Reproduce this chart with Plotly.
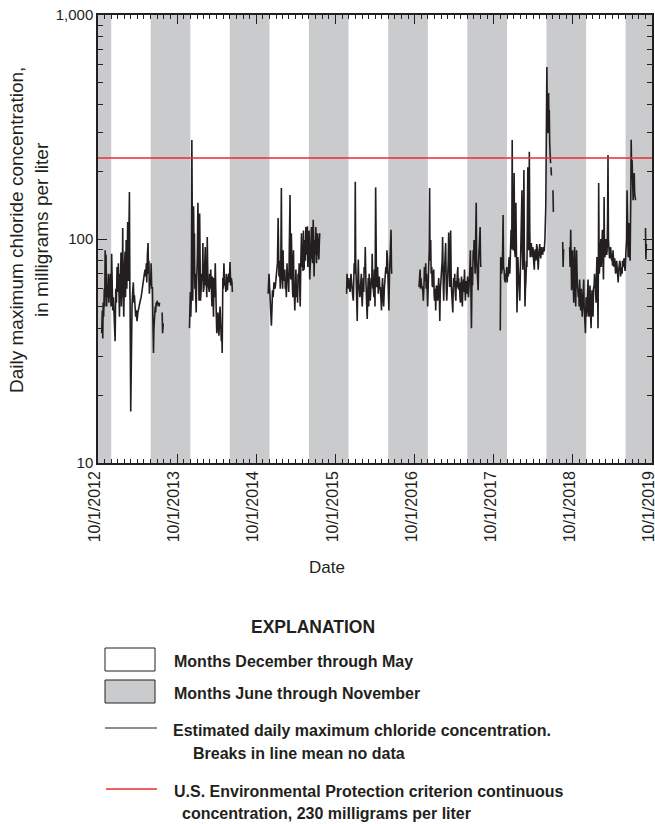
import pandas as pd
import plotly.graph_objects as go

# ---------------- data (day offset from 10/1/2012, mg/L) ----------------
START = "2012-10-01"
END = "2019-10-01"
EPA_CRITERION = 230

seg_2013a = [(17,38),(20,48),(22,36),(24,52),(26,45),(29,60),(31,50),(33,89),(35,55),(37,85),
             (40,50),(42,62),(45,55),(48,70),(50,52),(53,60),(57,70),(60,50),(63,86),(66,60),
             (68,48),(71,55),(73,47),(76,40),(79,35),(82,60),(85,52),(88,75),(91,58),(94,78),
             (97,55),(99,45),(102,70),(104,62),(106,87),(108,50),(110,66),(112,55),(114,112),(116,60),
             (119,45),(122,75),(125,88),(127,55),(130,99),(133,60),(135,80),(137,119),(140,65),(142,90),
             (145,162),(147,60),(148,53),(151,17),(154,40),(157,50),(160,58),(163,64),(166,52),(168,56),
             (171,50),(174,45),(177,48),(180,43),(184,47),(188,50),(191,50),(195,53),(199,55),(203,58),
             (207,61),(211,66),(214,70),(217,73),(220,68),(223,78),(225,64),(228,85),(231,96),(233,70),
             (235,80),(237,57),(240,65),(243,62),(245,78),(248,60),(251,61),(253,45),(256,31),(258,40),
             (261,45),(264,50),(266,47),(268,52),(271,50),(273,53),(276,51),(279,52),(282,50),(284,52)]
seg_2013b = [(296,47),(298,38),(301,42)]

seg_2014 = [(422,40),(424,55),(426,58),(428,45),(430,53),(433,277),(435,60),(437,53),(439,70),(441,140),
            (443,85),(445,106),(447,60),(449,70),(451,55),(453,47),(455,65),(458,81),(461,145),(463,75),
            (466,53),(469,130),(471,65),(473,53),(476,60),(479,70),(482,65),(484,96),(486,58),(489,61),
            (492,75),(495,92),(497,62),(499,67),(502,55),(504,102),(507,65),(510,61),(513,58),(515,70),
            (518,60),(520,73),(523,55),(526,50),(528,68),(530,61),(533,45),(535,67),(538,55),(541,78),
            (543,50),(546,45),(548,38),(550,42),(553,47),(556,40),(558,37),(561,45),(563,50),(566,42),
            (569,35),(571,40),(573,31),(576,67),(578,60),(581,78),(584,62),(587,64),(590,58),(592,70),
            (595,62),(597,59),(600,67),(603,70),(606,64),(609,79),(612,62),(615,67),(618,64),(620,58)]

seg_2015 = [(785,57),(787,65),(789,70),(792,60),(795,53),(797,48),(800,41),(803,50),(805,59),(808,55),
            (812,64),(815,60),(818,61),(821,66),(823,70),(826,72),(828,78),(831,124),(833,75),(835,68),
            (837,80),(839,70),(841,60),(843,67),(846,169),(848,75),(849,70),(852,60),(854,89),(856,65),
            (859,67),(862,73),(864,60),(866,64),(869,55),(872,78),(875,65),(877,67),(880,58),(882,81),
            (884,95),(886,157),(888,70),(889,66),(892,106),(894,62),(897,61),(899,55),(902,89),(904,60),
            (905,61),(908,48),(911,58),(913,73),(916,55),(919,61),(921,52),(923,70),(926,65),(928,78),
            (931,58),(933,50),(936,81),(939,106),(941,75),(943,85),(946,72),(948,109),(951,73),(954,99),
            (957,80),(959,113),(961,90),(963,85),(966,114),(968,75),(970,96),(972,80),(974,109),(977,66),
            (979,80),(982,89),(985,113),(988,82),(990,78),(993,122),(995,70),(997,68),(1000,99),(1002,85),
            (1005,113),(1008,78),(1010,85),(1013,106),(1016,92),(1019,81),(1021,95),(1023,106)]

seg_2016 = [(1147,57),(1149,70),(1151,62),(1154,60),(1157,67),(1160,62),(1163,58),(1167,70),(1170,60),(1173,59),
            (1176,55),(1178,53),(1180,65),(1182,78),(1185,70),(1187,180),(1189,80),(1191,68),(1194,55),(1196,43),
            (1198,60),(1201,81),(1203,65),(1205,61),(1208,55),(1210,57),(1213,65),(1215,70),(1217,56),(1219,50),
            (1222,60),(1224,67),(1226,58),(1228,75),(1231,70),(1233,92),(1236,65),(1238,53),(1240,50),(1242,44),
            (1245,60),(1247,67),(1249,50),(1251,70),(1254,60),(1256,53),(1259,60),(1261,67),(1263,62),(1265,86),
            (1268,60),(1270,61),(1273,55),(1275,73),(1277,58),(1278,50),(1281,170),(1283,70),(1285,61),(1288,65),
            (1290,75),(1293,57),(1295,62),(1298,68),(1300,60),(1302,61),(1305,55),(1308,48),(1310,60),(1313,67),
            (1315,55),(1318,50),(1321,60),(1324,70),(1326,65),(1328,75),(1331,70),(1333,89),(1336,80),(1338,61),
            (1340,55),(1342,48),(1345,70),(1347,80),(1350,90),(1352,110),(1354,75),(1355,70)]

seg_2017 = [(1481,61),(1483,70),(1486,73),(1488,60),(1490,67),(1493,62),(1496,61),(1499,58),(1501,53),(1504,62),
            (1506,75),(1509,65),(1512,78),(1514,60),(1516,70),(1519,58),(1521,50),(1524,65),(1526,81),(1528,90),
            (1530,169),(1532,80),(1535,99),(1537,70),(1540,75),(1542,62),(1544,61),(1547,70),(1549,73),(1551,56),
            (1553,53),(1556,60),(1558,48),(1561,62),(1563,61),(1565,55),(1567,53),(1570,62),(1572,67),(1575,55),
            (1577,43),(1579,58),(1581,61),(1584,70),(1586,75),(1588,80),(1590,102),(1593,62),(1595,53),(1598,70),
            (1600,81),(1602,75),(1604,96),(1607,60),(1609,53),(1612,62),(1614,67),(1616,80),(1618,107),(1621,65),
            (1623,61),(1625,75),(1627,109),(1630,62),(1632,55),(1635,52),(1637,47),(1639,60),(1641,67),(1644,62),
            (1646,70),(1648,58),(1651,53),(1653,65),(1655,61),(1658,70),(1660,75),(1662,60),(1664,67),(1666,59),
            (1668,64),(1670,55),(1672,52),(1675,62),(1677,68),(1679,55),(1681,50),(1684,62),(1686,66),(1688,58),
            (1691,73),(1693,60),(1695,53),(1698,65),(1700,62),(1702,57),(1705,68),(1707,60),(1709,55),(1712,62),
            (1714,66),(1716,75),(1718,89),(1721,60),(1723,40),(1726,75),(1728,62),(1731,89),(1733,80),(1735,99),
            (1738,72),(1740,70),(1742,95),(1745,145),(1747,80),(1749,68),(1752,62),(1754,59),(1756,80),(1758,90),
            (1761,100),(1763,113),(1765,80),(1766,75)]

seg_2018a = [(1856,39),(1857,60),(1858,83),(1860,80),(1862,70),(1865,75),(1867,90),(1869,128),(1871,75),(1874,72),
             (1876,66),(1879,64),(1881,70),(1883,68),(1886,75),(1888,64),(1890,72),(1893,68),(1895,78),(1897,83),
             (1900,70),(1902,89),(1904,100),(1906,110),(1909,90),(1911,277),(1913,100),(1916,89),(1918,120),(1920,197),
             (1922,90),(1925,83),(1927,100),(1928,145),(1931,80),(1933,47),(1935,60),(1937,83),(1940,70),(1942,64),
             (1944,60),(1946,53),(1949,75),(1951,89),(1953,120),(1956,165),(1958,90),(1960,73),(1963,110),(1965,203),
             (1967,90),(1970,50),(1972,60),(1974,64),(1977,80),(1979,75),(1981,120),(1983,209),(1985,100),(1987,89),
             (1989,150),(1990,245),(1992,110),(1994,83),(1996,90),(1999,96),(2001,85),(2003,83),(2006,92),(2008,89),
             (2010,80),(2013,73),(2015,85),(2017,90),(2020,80),(2022,83),(2024,95),(2027,90),(2029,80),(2031,73),
             (2034,85),(2036,89),(2038,95),(2040,87),(2043,82),(2045,92),(2047,88),(2050,89),(2052,85),(2054,92),
             (2057,88),(2059,89),(2062,100),(2064,118),(2066,140),(2068,250),(2070,400),(2071,586),(2073,350),(2076,297),
             (2077,380),(2079,449),(2081,300),(2082,377),(2084,268),(2086,250),(2088,218)]
seg_2018b = [(2090,209),(2092,192)]
seg_2018c = [(2099,165),(2101,132)]
seg_2018d = [(2144,97),(2146,75),(2148,90)]

seg_2019a = [(2176,92),(2178,75),(2181,110),(2183,70),(2185,59),(2188,75),(2190,89),(2192,65),(2195,52),(2197,70),
             (2199,92),(2202,60),(2204,50),(2206,70),(2208,89),(2211,65),(2213,62),(2216,55),(2218,59),(2220,50),
             (2222,66),(2225,55),(2227,48),(2230,60),(2232,55),(2234,45),(2236,50),(2239,62),(2241,66),(2243,50),
             (2245,43),(2247,45),(2249,38),(2251,50),(2252,55),(2255,45),(2256,52),(2259,60),(2261,66),(2263,48),
             (2265,45),(2268,55),(2270,62),(2273,45),(2275,40),(2277,50),(2279,59),(2282,48),(2284,45),(2286,60),
             (2289,62),(2291,70),(2293,66),(2296,55),(2298,52),(2300,70),(2302,83),(2305,60),(2307,40),(2309,90),
             (2310,178),(2312,85),(2313,70),(2316,90),(2318,89),(2320,100),(2322,75),(2325,95),(2327,110),(2330,80),
             (2332,66),(2334,100),(2335,154),(2337,85),(2339,83),(2342,100),(2344,92),(2347,85),(2349,89),(2351,120),
             (2353,237),(2355,100),(2358,89),(2360,82),(2363,83),(2365,92),(2367,85),(2370,80),(2372,83),(2374,76),
             (2376,89),(2379,78),(2381,75),(2384,82),(2386,78),(2388,70),(2390,72),(2393,80),(2395,75),(2397,68),
             (2400,64),(2402,72),(2404,75),(2407,80),(2409,78),(2411,68),(2413,73),(2416,75),(2418,70),(2420,80),
             (2423,75),(2425,78),(2427,82),(2430,75),(2432,72),(2435,85),(2437,89),(2439,100),(2441,165),(2443,90),
             (2446,83),(2448,100),(2450,118),(2453,85),(2455,80),(2458,150),(2460,277),(2462,200),(2464,225),(2466,180),
             (2469,149),(2471,170),(2474,197),(2476,160),(2478,155),(2480,149)]
seg_2019b = [(2526,112),(2528,81),(2530,95)]

segments = [seg_2013a, seg_2013b, seg_2014, seg_2015, seg_2016, seg_2017,
            seg_2018a, seg_2018b, seg_2018c, seg_2018d, seg_2019a, seg_2019b]

# summer/fall shading (June through November)
gray_starts = ["2012-10-01", "2013-06-01", "2014-06-01", "2015-06-01", "2016-06-01",
               "2017-06-01", "2018-06-01", "2019-06-01"]
gray_ends = ["2012-12-01", "2013-12-01", "2014-12-01", "2015-12-01", "2016-12-01",
             "2017-12-01", "2018-12-01", "2019-10-01"]

year_ticks = ["2012-10-01", "2013-10-01", "2014-10-01", "2015-10-01", "2016-10-01",
              "2017-10-01", "2018-10-01", "2019-10-01"]
year_labels = ["10/1/2012", "10/1/2013", "10/1/2014", "10/1/2015", "10/1/2016",
               "10/1/2017", "10/1/2018", "10/1/2019"]
y_ticks = [10, 100, 1000]
y_labels = ["10", "100", "1,000"]

# ---------------- build ----------------
start = pd.Timestamp(START)
xs, ys = [], []
for seg in segments:
    for d, v in seg:
        xs.append(start + pd.Timedelta(days=d))
        ys.append(v)
    xs.append(None)
    ys.append(None)

INK = "#231f20"
GRAY = "#cacbcd"
RED = "#ee2a2f"
FONT = "Liberation Sans, Arial, sans-serif"

fig = go.Figure()
fig.add_trace(go.Scatter(x=xs, y=ys, mode="lines", connectgaps=False,
                         line=dict(color=INK, width=1.6), showlegend=False))
fig.add_trace(go.Scatter(x=[START, END], y=[EPA_CRITERION, EPA_CRITERION], mode="lines",
                         line=dict(color=RED, width=1.4), showlegend=False))

shapes = []
for s, e in zip(gray_starts, gray_ends):
    shapes.append(dict(type="rect", xref="x", yref="paper", x0=s, x1=e, y0=0, y1=1,
                       fillcolor=GRAY, line=dict(width=0), layer="below"))

# explanation (legend) drawn below the plot, in paper coordinates
W, L = 554.0, 98.0
def px(xp):
    return (xp - L) / W
def py(yp):
    return (463 - yp) / 448.0

shapes += [
    dict(type="rect", xref="paper", yref="paper", x0=px(105), x1=px(155), y0=py(648), y1=py(671),
         fillcolor="white", line=dict(color=INK, width=1)),
    dict(type="rect", xref="paper", yref="paper", x0=px(105), x1=px(155), y0=py(680), y1=py(703),
         fillcolor=GRAY, line=dict(color=INK, width=1)),
    dict(type="line", xref="paper", yref="paper", x0=px(105), x1=px(157), y0=py(728), y1=py(728),
         line=dict(color=INK, width=1.2)),
    dict(type="line", xref="paper", yref="paper", x0=px(106), x1=px(157), y0=py(789), y1=py(789),
         line=dict(color=RED, width=1.4)),
]

def ann(text, xp, yp, size=16, anchor="left", bold=True, angle=0):
    return dict(text=("<b>%s</b>" % text) if bold else text, xref="paper", yref="paper",
                x=px(xp), y=py(yp), xanchor=anchor, yanchor="middle", showarrow=False,
                textangle=angle, font=dict(family=FONT, size=size, color=INK))

annotations = [
    ann("EXPLANATION", 313, 627, size=17.5, anchor="center"),
    ann("Months December through May", 172, 661),
    ann("Months June through November", 172, 693),
    ann("Estimated daily maximum chloride concentration.", 171, 730),
    ann("Breaks in line mean no data", 191, 753),
    ann("U.S. Environmental Protection criterion continuous", 172, 791),
    ann("concentration, 230 milligrams per liter", 180, 813),
    ann("Date", 327, 567, size=17, anchor="center", bold=False),
    ann("Daily maximum chloride concentration,<br>in milligrams per liter", 29, 230,
        size=19, anchor="center", bold=False, angle=-90),
]

minor_months = [d.strftime("%Y-%m-%d") for d in pd.date_range(START, END, freq="MS")]
minor_y = [m * 10 ** k for k in (1, 2) for m in range(2, 10)]

fig.update_layout(
    width=655, height=824,
    margin=dict(l=98, r=3, t=15, b=361),
    paper_bgcolor="white", plot_bgcolor="white",
    shapes=shapes, annotations=annotations,
    font=dict(family=FONT, color=INK),
    xaxis=dict(type="date", range=[START, END], showgrid=False, zeroline=False,
               automargin=False, ticklabeloverflow="allow", ticklabelshift=-3,
               showline=True, linecolor=INK, linewidth=1.5, mirror="allticks",
               tickmode="array", tickvals=year_ticks, ticktext=year_labels,
               ticks="inside", ticklen=9, tickcolor=INK, tickwidth=1.2,
               tickangle=-90, tickfont=dict(family=FONT, size=16, color=INK),
               minor=dict(tickvals=minor_months, ticks="inside", ticklen=4,
                          tickcolor=INK, tickwidth=1, showgrid=False)),
    yaxis=dict(type="log", range=[1, 3], showgrid=False, zeroline=False,
               automargin=False, ticklabeloverflow="allow",
               showline=True, linecolor=INK, linewidth=1.5, mirror="allticks",
               tickmode="array", tickvals=y_ticks, ticktext=y_labels,
               ticks="inside", ticklen=9, tickcolor=INK, tickwidth=1.2,
               tickfont=dict(family=FONT, size=15, color=INK),
               minor=dict(tickvals=minor_y, ticks="inside", ticklen=5,
                          tickcolor=INK, tickwidth=1, showgrid=False)),
)

fig.write_html("out.html", config={"displayModeBar": False},
               post_script="document.body.style.margin='0';"
                           "document.body.style.overflow='hidden';")
